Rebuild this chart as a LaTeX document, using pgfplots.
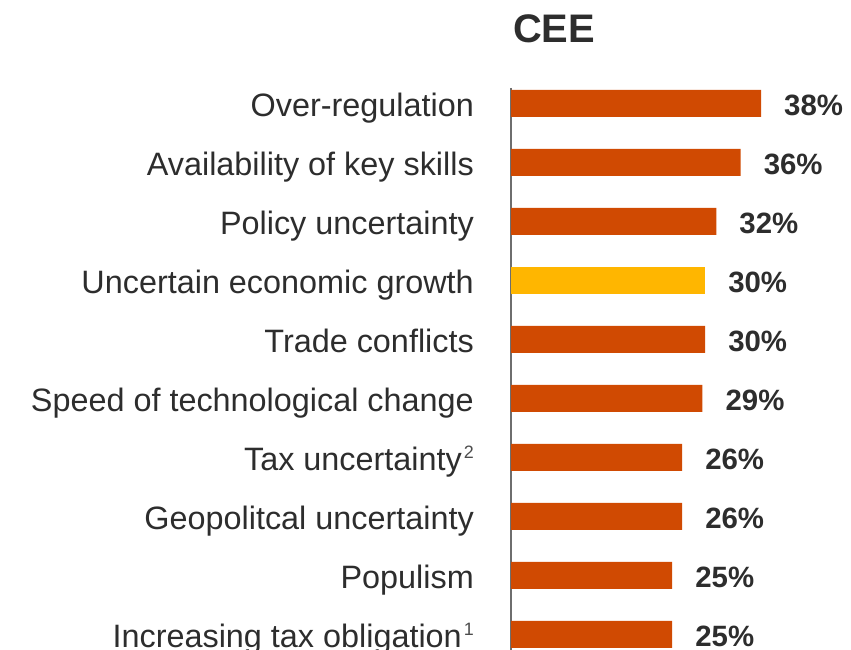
\documentclass[border=0pt]{standalone}
\usepackage{pgfplots}
\pgfplotsset{compat=1.18}
\usepackage{pgfplotstable}
\usepackage{fontspec}
\setmainfont{Liberation Sans}
\definecolor{pwcorange}{HTML}{D04A02}
\definecolor{pwcyellow}{HTML}{FFB600}
\definecolor{txt}{HTML}{2D2D2D}
\definecolor{axisgray}{HTML}{6E6E6E}
\newcommand{\fn}[1]{\kern2bp\raisebox{12bp}{\fontsize{18}{20}\selectfont\color{txt!85}#1}}

% y = row (top to bottom), x = bar length as drawn, lbl = printed share
\pgfplotstableread{
y x lbl
0 38.0 38
1 34.9 36
2 31.2 32
4 29.5 30
5 29.1 29
6 26.0 26
7 26.0 26
8 24.5 25
9 24.5 25
}\orangedata
\pgfplotstableread{
y x lbl
3 29.5 30
}\yellowdata

\begin{document}
\begin{tikzpicture}[x=1bp,y=1bp]
\begin{axis}[
    at={(511bp,0bp)}, anchor=south west,
    scale only axis, width=300bp, height=562bp,
    xmin=0, xmax=45.6, ymin=-0.26, ymax=9.266,
    y dir=reverse,
    xbar, bar width=27bp, bar shift=0pt,
    axis x line=none, xtick=\empty,
    axis y line=left,
    axis line style={-, draw=axisgray, line width=1.5bp},
    ytick={0,...,9},
    yticklabels={
        Over-regulation,
        Availability of key skills,
        Policy uncertainty,
        Uncertain economic growth,
        Trade conflicts,
        Speed of technological change,
        Tax uncertainty\fn{2},
        Geopolitcal uncertainty,
        Populism,
        Increasing tax obligation\fn{1}},
    major tick length=0pt,
    yticklabel style={anchor=base east, inner sep=0pt, xshift=-37bp, yshift=-13bp,
        font=\fontsize{32.5}{36}\selectfont, text=txt},
    point meta=explicit,
    nodes near coords={\pgfmathprintnumber{\pgfplotspointmeta}\%},
    every node near coord/.append style={anchor=west, inner sep=0pt,
        xshift=23bp, yshift=-2bp, font=\bfseries\fontsize{29.5}{32}\selectfont, text=txt,
        /pgf/number format/assume math mode=true},
    title={CEE},
    title style={at={(0,1)}, anchor=base west, inner sep=0pt, xshift=2bp, yshift=40bp,
        font=\bfseries\fontsize{40}{44}\selectfont, text=txt},
    clip=false,
]
\addplot[draw=none, fill=pwcorange] table[x=x, y=y, meta=lbl] {\orangedata};
\addplot[draw=none, fill=pwcyellow] table[x=x, y=y, meta=lbl] {\yellowdata};
\end{axis}
\pgfresetboundingbox
\path[use as bounding box] (0,0) rectangle (851,650);
\end{tikzpicture}
\end{document}
